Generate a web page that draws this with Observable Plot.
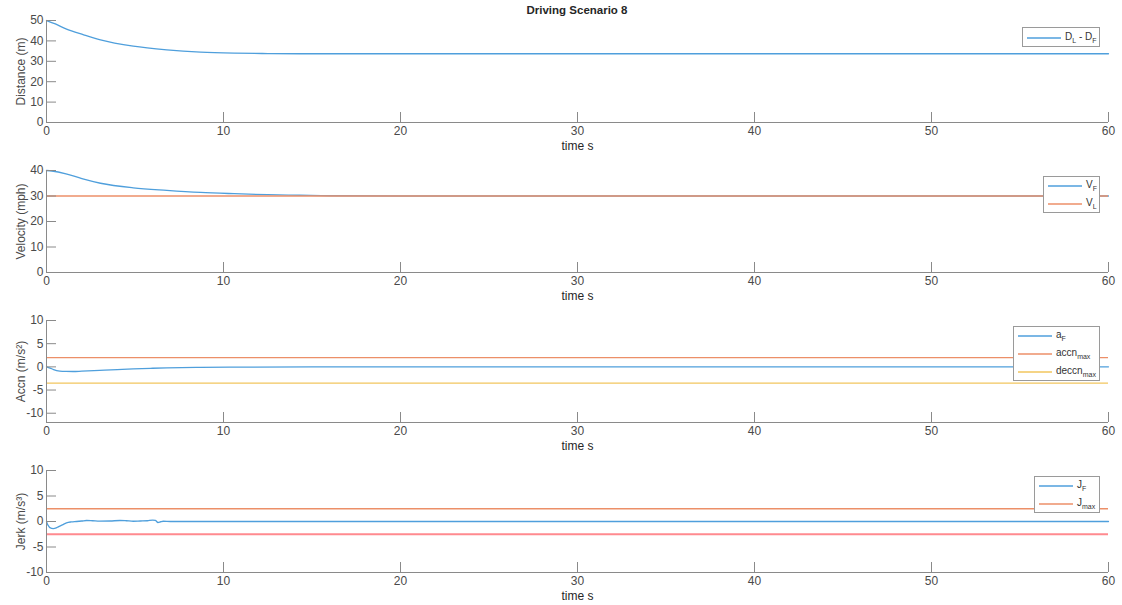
<!DOCTYPE html>
<html>
<head>
<meta charset="utf-8">
<script src="https://cdn.jsdelivr.net/npm/d3@7"></script>
<script src="https://cdn.jsdelivr.net/npm/@observablehq/plot@0.6"></script>
<style>
  html, body { margin: 0; padding: 0; background: #fff; }
  #root { position: relative; width: 1122px; height: 605px; overflow: hidden; font-family: "Liberation Sans", Arial, Helvetica, sans-serif; }
  .panel { position: absolute; left: 0; }
  .panel svg { overflow: visible; }
  .title { position: absolute; left: 46px; width: 1062px; top: 4px; text-align: center; font-weight: bold; font-size: 11.5px; color: #262626; }
  .legend { position: absolute; background: #fff; border: 1px solid #9a9a9a; box-sizing: border-box; font-size: 10px; color: #333; }
  .legend .row { position: absolute; left: 0; height: 0; }
  .legend svg.sw { position: absolute; left: 4px; top: -2px; width: 34px; height: 4px; overflow: visible; }
  .legend .lab { position: absolute; left: 42px; top: -7px; white-space: nowrap; line-height: 12px; }
  .legend sub { font-size: 7px; vertical-align: -3px; line-height: 0; }
</style>
</head>
<body>
<div id="root"></div>
<script>
// ---------- data ----------
const xTicks = [0, 10, 20, 30, 40, 50, 60];

// Distance D_L - D_F (m)
const distT = [0, 0.5, 1.1, 2.1, 3.05, 4.9, 6.8, 8.7, 10.6, 12.5, 14.3, 20, 30, 40, 50, 60];
const distV = [50, 48.3, 45.9, 43.0, 40.5, 37.4, 35.6, 34.5, 34.0, 33.8, 33.7, 33.7, 33.7, 33.7, 33.7, 33.7];

// Velocity (mph)
const velT = [0, 0.3, 1.1, 2.0, 3.05, 4.9, 6.8, 8.7, 10.6, 12.5, 14.3, 16, 20, 60];
const velF = [40, 39.8, 38.7, 36.8, 35.0, 33.2, 32.2, 31.4, 30.9, 30.5, 30.3, 30.1, 30.0, 30.0];
const velL = 30;

// Acceleration (m/s^2)
const accT = [0, 0.2, 0.4, 0.75, 1.1, 1.5, 2, 3, 4, 4.9, 6, 6.8, 8.7, 10.6, 15, 60];
const accF = [0, -0.25, -0.58, -0.9, -0.98, -1.0, -0.92, -0.75, -0.58, -0.43, -0.3, -0.22, -0.12, -0.07, -0.02, 0];
const accnMax = 2;
const deccnMax = -3.5;

// Jerk (m/s^3)
const jerkT = [0, 0.05, 0.12, 0.19, 0.38, 0.55, 0.66, 0.9, 1.13, 1.4, 1.7, 2.0, 2.26, 2.6, 3.0, 3.6, 4.15, 4.5, 4.9, 5.3, 5.7, 6.0, 6.15, 6.3, 6.45, 6.6, 7, 60];
const jerkF = [0, -0.5, -0.9, -1.2, -1.38, -1.25, -1.05, -0.65, -0.26, -0.08, 0, 0.1, 0.2, 0.15, 0.07, 0.1, 0.2, 0.15, 0.05, 0.1, 0.15, 0.26, 0.2, -0.2, -0.05, 0.05, 0, 0];
const jMax = 2.5;

const panels = [
  { top: 0, domain: [0, 50], ticks: [0, 10, 20, 30, 40, 50], ylabel: "Distance (m)" },
  { top: 150, domain: [0, 40], ticks: [0, 10, 20, 30, 40], ylabel: "Velocity (mph)" },
  { top: 300, domain: [-12, 10], ticks: [-10, -5, 0, 5, 10], ylabel: "Accn (m/s²)" },
  { top: 450, domain: [-10, 10], ticks: [-10, -5, 0, 5, 10], ylabel: "Jerk (m/s³)" }
];

// ---------- styles ----------
const BLUE = "#4f9fdc";
const ORANGE = "#ec8f68";
const YELLOW = "#f2c65e";
const PINK = "#ff8a8f";
const AXIS = "#8a8a8a";
const TEXT = "#4a4a4a";

const seriesMarks = [
  [
    Plot.line(distV, { x: distT, y: distV, stroke: BLUE, strokeWidth: 1.3, curve: "monotone-x" })
  ],
  [
    Plot.line(velF, { x: velT, y: velF, stroke: BLUE, strokeWidth: 1.3, curve: "monotone-x" }),
    Plot.ruleY([velL], { stroke: ORANGE, strokeWidth: 1.3 })
  ],
  [
    Plot.line(accF, { x: accT, y: accF, stroke: BLUE, strokeWidth: 1.3, curve: "monotone-x" }),
    Plot.ruleY([accnMax], { stroke: ORANGE, strokeWidth: 1.3 }),
    Plot.ruleY([deccnMax], { stroke: YELLOW, strokeWidth: 1.3 })
  ],
  [
    Plot.line(jerkF, { x: jerkT, y: jerkF, stroke: BLUE, strokeWidth: 1.3, curve: "monotone-x" }),
    Plot.ruleY([jMax], { stroke: ORANGE, strokeWidth: 1.3 }),
    Plot.ruleY([-jMax], { stroke: PINK, strokeWidth: 2.2 })
  ]
];

const legends = [
  { left: 1022, top: 27, width: 78, height: 20, rows: [[BLUE, "D<sub>L</sub> - D<sub>F</sub>"]] },
  { left: 1043, top: 176, width: 57, height: 37, rows: [[BLUE, "V<sub>F</sub>"], [ORANGE, "V<sub>L</sub>"]] },
  { left: 1013, top: 326, width: 87, height: 55, rows: [[BLUE, "a<sub>F</sub>"], [ORANGE, "accn<sub>max</sub>"], [YELLOW, "deccn<sub>max</sub>"]] },
  { left: 1034, top: 476, width: 66, height: 37, rows: [[BLUE, "J<sub>F</sub>"], [ORANGE, "J<sub>max</sub>"]] }
];

const root = document.getElementById("root");
const title = document.createElement("div");
title.className = "title";
title.textContent = "Driving Scenario 8";
root.appendChild(title);

const fmt = d => String(d);

panels.forEach((p, i) => {
  const chart = Plot.plot({
    width: 1122,
    height: 162,
    marginLeft: 46,
    marginRight: 14,
    marginTop: 20,
    marginBottom: 40,
    style: { background: "transparent", fontFamily: "'Liberation Sans', Arial, sans-serif", fontSize: "12px", color: TEXT, overflow: "visible" },
    x: { domain: [0, 60] },
    y: { domain: p.domain },
    marks: [
      ...seriesMarks[i],
      Plot.ruleX([0], { stroke: AXIS }),
      Plot.ruleY([p.domain[0]], { stroke: AXIS }),
      Plot.axisX(xTicks, { anchor: "bottom", tickSize: -10, tickPadding: 14, stroke: AXIS, fill: TEXT, tickFormat: fmt, label: null, fontSize: 12 }),
      Plot.axisY(p.ticks, { anchor: "left", tickSize: -10, tickPadding: 13, stroke: AXIS, fill: TEXT, tickFormat: fmt, label: null, fontSize: 12 }),
      Plot.text([p.ylabel], { frameAnchor: "left", textAnchor: "middle", rotate: -90, dx: -25, fill: TEXT, fontSize: 12 }),
      Plot.text(["time s"], { frameAnchor: "bottom", textAnchor: "middle", dy: 27, fill: "#262626", fontSize: 12 })
    ]
  });
  const wrap = document.createElement("div");
  wrap.className = "panel";
  wrap.style.top = p.top + "px";
  wrap.appendChild(chart);
  root.appendChild(wrap);
});

const NS = "http://www.w3.org/2000/svg";
legends.forEach(L => {
  const box = document.createElement("div");
  box.className = "legend";
  box.style.left = L.left + "px";
  box.style.top = L.top + "px";
  box.style.width = L.width + "px";
  box.style.height = L.height + "px";
  L.rows.forEach((r, k) => {
    const row = document.createElement("div");
    row.className = "row";
    row.style.top = (L.rows.length === 1 ? 9.5 : 9 + 18 * k) + "px";
    const sw = document.createElementNS(NS, "svg");
    sw.setAttribute("class", "sw");
    sw.setAttribute("width", "34");
    sw.setAttribute("height", "4");
    const ln = document.createElementNS(NS, "line");
    ln.setAttribute("x1", "0");
    ln.setAttribute("x2", "34");
    ln.setAttribute("y1", "2");
    ln.setAttribute("y2", "2");
    ln.setAttribute("stroke", r[0]);
    ln.setAttribute("stroke-width", "1.3");
    sw.appendChild(ln);
    const lab = document.createElement("div");
    lab.className = "lab";
    lab.innerHTML = r[1];
    row.appendChild(sw);
    row.appendChild(lab);
    box.appendChild(row);
  });
  root.appendChild(box);
});
</script>
</body>
</html>
